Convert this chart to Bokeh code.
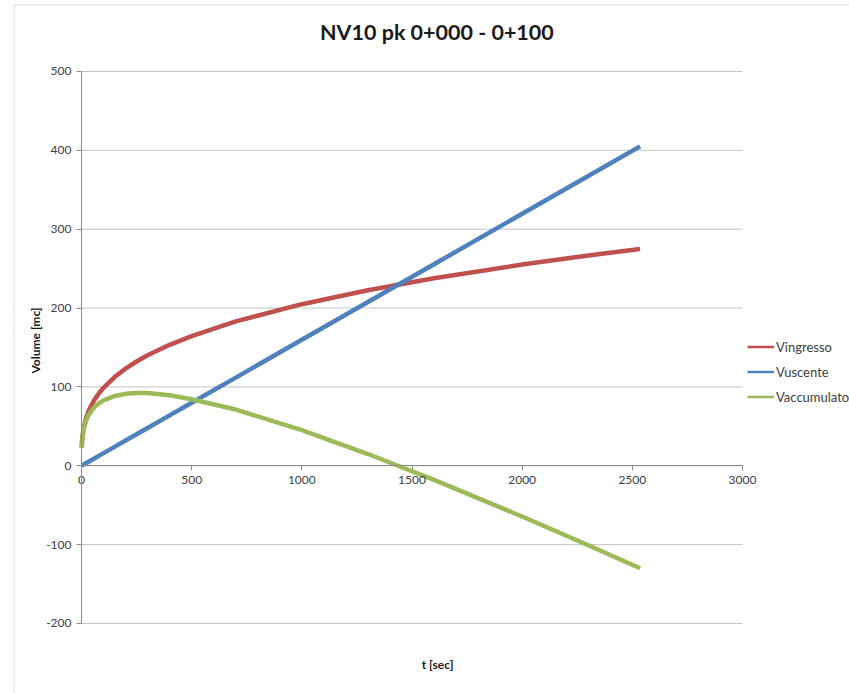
import math
from bokeh.plotting import figure
from bokeh.models import (ColumnDataSource, FixedTicker, Legend, LegendItem, Range1d,
                          PrintfTickFormatter, LinearAxis, Label, BoxAnnotation)
from bokeh.embed import file_html
from bokeh.resources import INLINE

# ---- data ----
t_sec = [1, 2, 3, 5, 10, 20, 30, 40, 60, 80, 100, 150, 200, 250, 300, 400, 500,
         700, 1000, 1300, 1600, 2000, 2300, 2535]
v_ingresso = [23.1, 28.8, 32.7, 38.4, 47.8, 59.5, 67.7, 74.1, 84.2, 92.3, 98.9, 112.5,
              123.2, 132.2, 140.1, 153.4, 164.3, 183.1, 204.9, 222.6, 237.7, 255.1,
              266.7, 275.0]
v_uscente = [0.2, 0.3, 0.5, 0.8, 1.6, 3.2, 4.8, 6.4, 9.6, 12.8, 16.0, 24.0, 32.0, 39.9,
             47.9, 63.9, 79.9, 111.8, 159.8, 207.7, 255.6, 319.5, 367.5, 405.0]
v_accumulato = [22.9, 28.5, 32.2, 37.6, 46.2, 56.3, 62.9, 67.7, 74.6, 79.5, 82.9, 88.5,
                91.2, 92.3, 92.2, 89.5, 84.4, 71.3, 45.1, 14.9, -17.9, -64.4, -100.8,
                -130.0]
x_ticks = [0, 500, 1000, 1500, 2000, 2500, 3000]
y_ticks = [-200, -100, 0, 100, 200, 300, 400, 500]
series_names = ["Vingresso", "Vuscente", "Vaccumulato"]

FONT = "Lato"
TXT = "#404040"
DARK = "#1a1a1a"

src = ColumnDataSource(dict(t=t_sec, vin=v_ingresso, vus=v_uscente, vac=v_accumulato))
# legend-only source: a single missing point, so nothing is drawn in the plot
nan = float("nan")
leg_src = ColumnDataSource(dict(t=[nan], v=[nan]))

# the frame fills the whole canvas; the axes cross at 0 inside it (Excel style)
W, H = 849, 693
p = figure(width=W, height=H, output_backend="svg", toolbar_location=None,
           x_range=Range1d(-367.6, 3485.6), y_range=Range1d(-288.8, 590.0),
           x_axis_location=None, y_axis_location=None,
           min_border=0, min_border_left=0, min_border_right=0,
           min_border_top=0, min_border_bottom=0, title=None)
p.outline_line_color = None
p.background_fill_color = "white"
p.border_fill_color = "white"
p.xgrid.visible = False
p.ygrid.visible = False

# chart-area border (top and left edges visible in the reference)
p.add_layout(BoxAnnotation(left=-306.4, top=584.3, right=9000, bottom=-9000,
                           fill_alpha=0, line_color="#8c8c8c", line_width=1))

# horizontal gridlines limited to the axis extent
p.segment(x0=[x_ticks[0]] * len(y_ticks), x1=[x_ticks[-1]] * len(y_ticks),
          y0=y_ticks, y1=y_ticks, line_color="#c3c3c3", line_width=1)

xax = LinearAxis(fixed_location=0, bounds=(x_ticks[0], x_ticks[-1]))
yax = LinearAxis(fixed_location=0, bounds=(y_ticks[0], y_ticks[-1]))
xax.ticker = FixedTicker(ticks=x_ticks)
yax.ticker = FixedTicker(ticks=y_ticks)
for ax in (xax, yax):
    ax.formatter = PrintfTickFormatter(format="%d")
    ax.axis_line_color = "#8c8c8c"
    ax.major_tick_line_color = "#8c8c8c"
    ax.major_tick_out = 5
    ax.major_tick_in = 0
    ax.minor_tick_line_color = None
    ax.major_label_text_font = FONT
    ax.major_label_text_font_size = "12px"
    ax.major_label_text_color = TXT
    ax.major_label_standoff = 5
p.add_layout(xax, "below")
p.add_layout(yax, "left")

# series
red, blue, green = "#C0504D", "#4F81BD", "#9BBB59"
p.line("t", "vin", source=src, line_color=red, line_width=4.5)
p.line("t", "vus", source=src, line_color=blue, line_width=4.5)
p.line("t", "vac", source=src, line_color=green, line_width=4.5)

# legend-only glyphs (thin lines as in the Excel legend)
l1 = p.line("t", "v", source=leg_src, line_color=red, line_width=2.5)
l2 = p.line("t", "v", source=leg_src, line_color=blue, line_width=2.5)
l3 = p.line("t", "v", source=leg_src, line_color=green, line_width=2.5)

legend = Legend(items=[LegendItem(label=series_names[0], renderers=[l1]),
                       LegendItem(label=series_names[1], renderers=[l2]),
                       LegendItem(label=series_names[2], renderers=[l3])],
                location=(742, 280), margin=0, padding=5, spacing=2,
                glyph_width=27, glyph_height=23, label_height=23,
                label_standoff=2, label_text_font=FONT, label_text_font_size="13px",
                label_text_color=TXT, border_line_alpha=0, background_fill_alpha=0)
p.add_layout(legend, "center")

# title and axis titles
p.add_layout(Label(x=1613, y=549.5, text="NV10 pk 0+000 - 0+100", text_align="center",
                   text_baseline="middle", text_font=FONT, text_font_size="21.5px",
                   text_font_style="bold", text_color=DARK))
p.add_layout(Label(x=1616, y=-252, text="t [sec]", text_align="center",
                   text_baseline="middle", text_font=FONT, text_font_size="12px",
                   text_font_style="bold", text_color=DARK))
p.add_layout(Label(x=-210, y=158.9, text="Volume [mc]", text_align="center",
                   text_baseline="middle", angle=math.pi / 2, text_font=FONT,
                   text_font_size="12px", text_font_style="bold", text_color=DARK))

open("out.html", "w").write(file_html(p, INLINE))
